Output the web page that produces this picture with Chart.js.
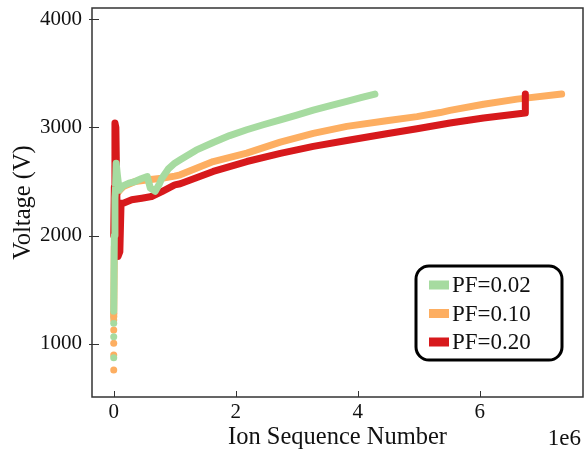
<!DOCTYPE html>
<html>
<head>
<meta charset="utf-8">
<script src="https://cdn.jsdelivr.net/npm/chart.js@4/dist/chart.umd.min.js"></script>
<style>
  html, body { margin: 0; padding: 0; background: #ffffff; }
  #wrap { width: 587px; height: 450px; }
</style>
</head>
<body>
<div id="wrap"><canvas id="c" width="587" height="450"></canvas></div>
<script>
// Ion sequence number is in units of 1e6 (offset label drawn at the axis end).
const seriesLabels = ['PF=0.02', 'PF=0.10', 'PF=0.20'];
const seriesColors = ['#a6dba0', '#fdae61', '#d7191c'];

// PF=0.02
const pf002X = [0.0, 0.01, 0.02, 0.03, 0.04, 0.06, 0.09, 0.15, 0.25, 0.35, 0.45, 0.55, 0.6, 0.68, 0.75, 0.79, 0.9, 1.0, 1.09, 1.35, 1.63, 1.9, 2.18, 2.45, 2.73, 3.0, 3.27, 3.55, 3.82, 4.05, 4.28];
const pf002V = [1300, 2000, 2350, 2450, 2670, 2560, 2420, 2460, 2485, 2500, 2525, 2546, 2440, 2410, 2480, 2531, 2620, 2670, 2701, 2790, 2861, 2925, 2979, 3025, 3071, 3115, 3160, 3202, 3241, 3275, 3309];

// PF=0.10
const pf010X = [0.0, 0.01, 0.02, 0.04, 0.1, 0.157, 0.35, 0.57, 0.79, 1.0, 1.09, 1.63, 2.18, 2.73, 3.27, 3.82, 4.47, 4.97, 5.35, 5.51, 6.06, 6.61, 7.34];
const pf010V = [1250, 1900, 2300, 2380, 2420, 2454, 2500, 2516, 2531, 2550, 2562, 2685, 2763, 2865, 2945, 3010, 3062, 3100, 3138, 3158, 3215, 3262, 3309];

// PF=0.20
const pf020X = [0.0, 0.01, 0.02, 0.035, 0.05, 0.07, 0.1, 0.12, 0.157, 0.295, 0.46, 0.62, 0.79, 1.0, 1.09, 1.63, 2.18, 2.73, 3.27, 3.82, 4.47, 4.97, 5.51, 6.06, 6.74, 6.745];
const pf020V = [2000, 2450, 3041, 3000, 2400, 1806, 1850, 2300, 2300, 2331, 2346, 2361, 2407, 2469, 2479, 2593, 2685, 2760, 2825, 2880, 2942, 2988, 3041, 3087, 3133, 3310];

// Isolated low-voltage ions at the start of each run
const pf002LowV = [870, 1065, 1189, 1250];
const pf010LowV = [756, 895, 1004, 1127, 1219, 1281];

const xTicks = [0, 2, 4, 6];
const yTicks = [1000, 2000, 3000, 4000];
const xRange = [-0.356, 7.69];
const yRange = [507, 4105];

const pts = (xs, ys) => xs.map((x, i) => ({ x: x, y: ys[i] }));
const serif = '"Liberation Serif", "Times New Roman", serif';
const ink = '#111111';
const frame = '#333333';

const lineSet = (idx, xs, ys) => ({
  label: seriesLabels[idx],
  data: pts(xs, ys),
  showLine: true,
  borderColor: seriesColors[idx],
  backgroundColor: seriesColors[idx],
  borderWidth: 7,
  borderCapStyle: 'round',
  borderJoinStyle: 'round',
  pointRadius: 0,
  tension: 0
});
const dotSet = (idx, ys) => ({
  label: seriesLabels[idx] + ' low',
  data: ys.map(v => ({ x: 0, y: v })),
  showLine: false,
  pointRadius: 3.5,
  pointBorderWidth: 0,
  pointBackgroundColor: seriesColors[idx],
  borderColor: seriesColors[idx]
});

// Frame, inward tick marks, offset label and the boxed legend
const decorations = {
  id: 'decorations',
  afterDraw(chart) {
    const ctx = chart.ctx;
    const a = chart.chartArea;
    const xs = chart.scales.x, ys = chart.scales.y;
    ctx.save();
    ctx.strokeStyle = frame;
    ctx.lineWidth = 1;
    ctx.beginPath();
    xTicks.forEach(v => {
      const p = Math.round(xs.getPixelForValue(v)) + 0.5;
      ctx.moveTo(p, a.bottom);
      ctx.lineTo(p, a.bottom - 6);
    });
    yTicks.forEach(v => {
      const p = Math.round(ys.getPixelForValue(v)) + 0.5;
      ctx.moveTo(a.left - 3, p);
      ctx.lineTo(a.left + 7, p);
    });
    ctx.stroke();
    ctx.lineWidth = 1.5;
    ctx.strokeRect(a.left, a.top, a.right - a.left, a.bottom - a.top);

    ctx.fillStyle = ink;
    ctx.font = '23px ' + serif;
    ctx.textAlign = 'right';
    ctx.textBaseline = 'alphabetic';
    ctx.fillText('1e6', a.right - 2, 445);

    // legend
    const bx = a.right - 167, by = a.bottom - 131, bw = 146, bh = 94;
    ctx.lineWidth = 3;
    ctx.strokeStyle = '#000000';
    ctx.beginPath();
    ctx.roundRect(bx, by, bw, bh, 13);
    ctx.fillStyle = '#ffffff';
    ctx.fill();
    ctx.stroke();
    ctx.font = '23px ' + serif;
    ctx.textAlign = 'left';
    ctx.textBaseline = 'middle';
    seriesLabels.forEach((lab, i) => {
      const cy = by + 19 + i * 28.5;
      ctx.fillStyle = seriesColors[i];
      ctx.fillRect(bx + 13, cy - 4.5, 20, 9);
      ctx.fillStyle = ink;
      ctx.fillText(lab, bx + 36, cy + 1);
    });
    ctx.restore();
  }
};

new Chart(document.getElementById('c'), {
  type: 'scatter',
  data: {
    datasets: [
      lineSet(0, pf002X, pf002V),
      lineSet(2, pf020X, pf020V),
      lineSet(1, pf010X, pf010V),
      dotSet(0, pf002LowV),
      dotSet(1, pf010LowV)
    ]
  },
  options: {
    responsive: false,
    animation: false,
    events: [],
    layout: { padding: { top: 8, right: 4, left: 0, bottom: 0 } },
    plugins: { legend: { display: false }, tooltip: { enabled: false } },
    scales: {
      x: {
        type: 'linear',
        min: xRange[0],
        max: xRange[1],
        afterBuildTicks: s => { s.ticks = xTicks.map(v => ({ value: v })); },
        afterFit: s => { s.height = 53; s.paddingLeft = 0; s.paddingRight = 0; },
        grid: { display: false, drawTicks: false },
        border: { display: false },
        ticks: {
          autoSkip: false,
          maxRotation: 0,
          padding: 3,
          color: ink,
          font: { family: serif, size: 21 },
          callback: v => String(v)
        },
        title: {
          display: true,
          text: 'Ion Sequence Number',
          color: ink,
          font: { family: serif, size: 24.5, lineHeight: 1 },
          padding: { top: 0, bottom: 0 }
        }
      },
      y: {
        type: 'linear',
        min: yRange[0],
        max: yRange[1],
        afterBuildTicks: s => { s.ticks = yTicks.map(v => ({ value: v })); },
        afterFit: s => { s.width = 92; s.paddingTop = 0; s.paddingBottom = 0; },
        grid: { display: false, drawTicks: false },
        border: { display: false },
        ticks: {
          padding: 10,
          color: ink,
          font: { family: serif, size: 21 },
          callback: v => String(v)
        },
        title: {
          display: true,
          text: 'Voltage (V)',
          color: ink,
          font: { family: serif, size: 24.5, lineHeight: 1 },
          padding: { top: 11, bottom: 0 }
        }
      }
    }
  },
  plugins: [decorations]
});
</script>
</body>
</html>
